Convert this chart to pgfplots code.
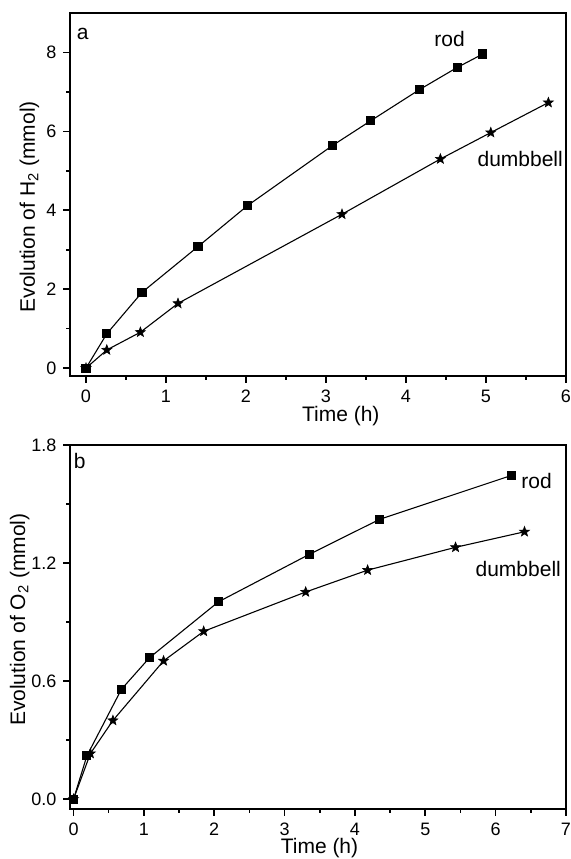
\documentclass[border=0pt]{standalone}
\usepackage{fontspec}
\setmainfont{Liberation Sans}
\usepackage{pgfplots}
\pgfplotsset{compat=1.18}

\pgfdeclareplotmark{fstar}{%
  \pgfpathmoveto{\pgfpointpolar{90}{\pgfplotmarksize}}%
  \pgfpathlineto{\pgfpointpolar{126}{0.42\pgfplotmarksize}}%
  \pgfpathlineto{\pgfpointpolar{162}{\pgfplotmarksize}}%
  \pgfpathlineto{\pgfpointpolar{198}{0.42\pgfplotmarksize}}%
  \pgfpathlineto{\pgfpointpolar{234}{\pgfplotmarksize}}%
  \pgfpathlineto{\pgfpointpolar{270}{0.42\pgfplotmarksize}}%
  \pgfpathlineto{\pgfpointpolar{306}{\pgfplotmarksize}}%
  \pgfpathlineto{\pgfpointpolar{342}{0.42\pgfplotmarksize}}%
  \pgfpathlineto{\pgfpointpolar{18}{\pgfplotmarksize}}%
  \pgfpathlineto{\pgfpointpolar{54}{0.42\pgfplotmarksize}}%
  \pgfpathclose
  \pgfusepathqfillstroke
}

\pgfplotsset{
  myaxis/.style={
    scale only axis,
    width=248pt,
    axis line style={line width=1pt},
    tick align=outside,
    tick pos=left,
    major tick length=3.3pt,
    minor tick length=1.8pt,
    every tick/.style={black, line width=0.8pt},
    /pgf/number format/assume math mode=true,
    tick label style={font=\fontsize{9}{10}\selectfont},
    label style={font=\fontsize{10.5}{12}\selectfont},
    every axis plot/.append style={black, line width=0.55pt},
  },
  rodstyle/.style={mark=square*, mark size=2pt, mark options={solid, fill=black}},
  dbstyle/.style={mark=fstar, mark size=2.6pt, mark options={solid, fill=black, line width=0.3pt}},
}

\begin{document}
\begin{tikzpicture}
\path[use as bounding box] (-35pt,6.5pt) rectangle (250.5pt,-423pt);

% Panel a
\begin{axis}[myaxis,
  at={(0,0)}, anchor=north west,
  height=181.5pt,
  xmin=-0.2, xmax=6,
  ymin=-0.2, ymax=9,
  xtick={0,1,2,3,4,5,6},
  ytick={0,2,4,6,8},
  minor x tick num=1,
  minor y tick num=1,
  xlabel={Time (h)},
  ylabel={Evolution of H\textsubscript{2} (mmol)},
  xlabel style={at={(axis description cs:0.546,-0.124)}, anchor=base},
  ylabel style={at={(axis description cs:-0.0706,0.466)}, anchor=base},
]
\addplot[rodstyle] coordinates {
(0,0) (0.26,0.87) (0.70,1.92) (1.40,3.08) (2.02,4.12) (3.08,5.64)
(3.56,6.27) (4.17,7.06) (4.64,7.62) (4.96,7.96)};
\addplot[dbstyle] coordinates {
(0,0) (0.26,0.46) (0.68,0.91) (1.15,1.64) (3.20,3.90) (4.43,5.30)
(5.06,5.97) (5.78,6.73)};
\node[anchor=base west, font=\fontsize{10.5}{12}\selectfont, inner sep=0pt] at (axis cs:-0.12,8.34) {a};
\node[anchor=base west, font=\fontsize{10.5}{12}\selectfont, inner sep=0pt] at (axis cs:4.35,8.16) {rod};
\node[anchor=base west, font=\fontsize{10.5}{12}\selectfont, inner sep=0pt] at (axis cs:4.89,5.10) {dumbbell};
\end{axis}

% Panel b
\begin{axis}[myaxis,
  at={(0,-216pt)}, anchor=north west,
  height=182pt,
  xmin=-0.05, xmax=7,
  ymin=-0.05, ymax=1.8,
  xtick={0,1,2,3,4,5,6,7},
  ytick={0,0.6,1.2,1.8},
  minor x tick num=1,
  minor y tick num=1,
  yticklabel style={/pgf/number format/.cd, fixed, fixed zerofill, precision=1},
  xlabel={Time (h)},
  ylabel={Evolution of O\textsubscript{2} (mmol)},
  xlabel style={at={(axis description cs:0.503,-0.121)}, anchor=base},
  ylabel style={at={(axis description cs:-0.0907,0.52)}, anchor=base},
]
\addplot[rodstyle] coordinates {
(0,0) (0.19,0.22) (0.68,0.558) (1.08,0.719) (2.06,1.003) (3.35,1.244)
(4.35,1.422) (6.23,1.646)};
\addplot[dbstyle] coordinates {
(0,0) (0.24,0.232) (0.56,0.40) (1.28,0.703) (1.85,0.853) (3.30,1.053)
(4.18,1.164) (5.43,1.28) (6.41,1.359)};
\node[anchor=base west, font=\fontsize{10.5}{12}\selectfont, inner sep=0pt] at (axis cs:0.0,1.683) {b};
\node[anchor=base west, font=\fontsize{10.5}{12}\selectfont, inner sep=0pt] at (axis cs:6.36,1.58) {rod};
\node[anchor=base west, font=\fontsize{10.5}{12}\selectfont, inner sep=0pt] at (axis cs:5.71,1.13) {dumbbell};
\end{axis}
\end{tikzpicture}
\end{document}
